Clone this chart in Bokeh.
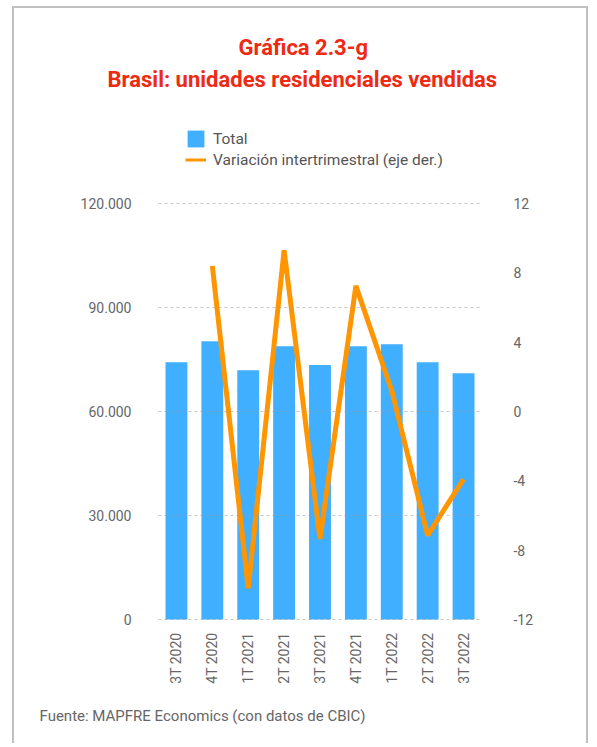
import math
from bokeh.plotting import figure
from bokeh.models import (Range1d, LinearAxis, FixedTicker, FactorRange, Title,
                          Legend, LegendItem, ColumnDataSource)
from bokeh.embed import file_html
from bokeh.resources import INLINE

# ---- data ----
quarters = ["3T 2020", "4T 2020", "1T 2021", "2T 2021", "3T 2021",
            "4T 2021", "1T 2022", "2T 2022", "3T 2022"]
total_units = [74200, 80300, 71900, 78800, 73400, 78800, 79400, 74200, 71000]
qoq_change = [float("nan"), 8.4, -10.2, 9.3, -7.35, 7.25, 1.2, -7.15, -3.9]

left_ticks = [0, 30000, 60000, 90000, 120000]
left_tick_labels = ["0", "30.000", "60.000", "90.000", "120.000"]
right_ticks = [-12, -8, -4, 0, 4, 8, 12]
right_tick_labels = ["-12", "-8", "-4", "0", "4", "8", "12"]

title_line1 = "Gráfica 2.3-g"
title_line2 = "Brasil: unidades residenciales vendidas"
legend_total = "Total"
legend_change = "Variación intertrimestral (eje der.)"
source_note = "Fuente: MAPFRE Economics (con datos de CBIC)"

# ---- style ----
FONT = "Roboto"
BAR_COLOR = "#41afff"
LINE_COLOR = "#ff9500"
TITLE_COLOR = "#ee2a12"
TICK_COLOR = "#666666"
LEG_COLOR = "#555555"

# geometry: the axis span (0..120000 / -12..12) occupies 418 px with 1 px pad,
# and the plotting frame reaches 102 px higher to host the legend.
SPAN_PX = 418.0
EXTRA_TOP_PX = 102.0
l0, l1 = -300.0, 120300.0
r0, r1 = -12.06, 12.06
l_top = l1 + EXTRA_TOP_PX * (l1 - l0) / SPAN_PX
r_top = r1 + EXTRA_TOP_PX * (r1 - r0) / SPAN_PX

src = ColumnDataSource(dict(q=quarters, total=total_units, chg=qoq_change))

p = figure(width=576, height=737,
           x_range=FactorRange(*quarters, range_padding=0),
           y_range=Range1d(l0, l_top),
           output_backend="svg", toolbar_location=None,
           min_border_left=144, min_border_right=109,
           min_border_top=92, min_border_bottom=125)
p.styles = {"margin-left": "12px", "margin-top": "6px",
            "border-left": "2px solid #c0c0c0",
            "border-right": "2px solid #c0c0c0",
            "border-top": "2px solid #c0c0c0"}
p.extra_y_ranges = {"pct": Range1d(r0, r_top)}
p.outline_line_color = None
p.background_fill_color = "white"
p.border_fill_color = "white"

bars = p.vbar(x="q", top="total", width=0.61, source=src,
              fill_color=BAR_COLOR, line_color=None)
p.line(x="q", y="chg", source=src, y_range_name="pct",
       line_color=LINE_COLOR, line_width=5, line_join="bevel")
# legend-only line (thinner stroke, no visible data)
legend_line = p.line(x=[quarters[0]], y=[float("nan")], y_range_name="pct",
                     line_color=LINE_COLOR, line_width=3)

# axes
p.yaxis.ticker = FixedTicker(ticks=left_ticks)
p.yaxis.major_label_overrides = {t: l for t, l in zip(left_ticks, left_tick_labels)}
ax_r = LinearAxis(y_range_name="pct", ticker=FixedTicker(ticks=right_ticks))
ax_r.major_label_overrides = {t: l for t, l in zip(right_ticks, right_tick_labels)}
p.add_layout(ax_r, "right")

for ax in [p.yaxis[0], ax_r, p.xaxis[0]]:
    ax.axis_line_color = None
    ax.major_tick_line_color = None
    ax.minor_tick_line_color = None
    ax.major_label_text_font = FONT
    ax.major_label_text_font_size = "14px"
    ax.major_label_text_color = TICK_COLOR
p.yaxis[0].major_label_standoff = 21
ax_r.major_label_standoff = 26
p.xaxis.major_label_orientation = math.pi / 2
p.xaxis.major_label_standoff = 6

p.xgrid.grid_line_color = None
p.ygrid.ticker = FixedTicker(ticks=left_ticks)
p.ygrid.grid_line_color = "#999999"
p.ygrid.grid_line_alpha = 0.55
p.ygrid.grid_line_dash = "3 3"
p.ygrid.grid_line_width = 1
p.ygrid.level = "overlay"

# legend inside the (extended) frame, above the data
leg = Legend(items=[LegendItem(label=legend_total, renderers=[bars]),
                    LegendItem(label=legend_change, renderers=[legend_line])],
             location=(27, 450), orientation="vertical",
             glyph_width=21, glyph_height=21, label_height=17, spacing=-2,
             label_standoff=7, padding=0, margin=0,
             border_line_color=None, background_fill_alpha=0,
             label_text_font=FONT, label_text_font_size="15.5px",
             label_text_color=LEG_COLOR)
p.add_layout(leg, "center")

# titles (added nearest-first)
p.add_layout(Title(text=title_line2, align="left", offset=-51,
                   text_font=FONT, text_font_size="22px", text_font_style="bold",
                   text_color=TITLE_COLOR, standoff=17), "above")
p.add_layout(Title(text=title_line1, align="left", offset=80,
                   text_font=FONT, text_font_size="22px", text_font_style="bold",
                   text_color=TITLE_COLOR, standoff=-6), "above")
# source note
p.add_layout(Title(text=source_note, align="left", offset=-119,
                   text_font=FONT, text_font_size="15px", text_font_style="normal",
                   text_color=TICK_COLOR, standoff=37), "below")

open("out.html", "w").write(file_html(p, INLINE))
